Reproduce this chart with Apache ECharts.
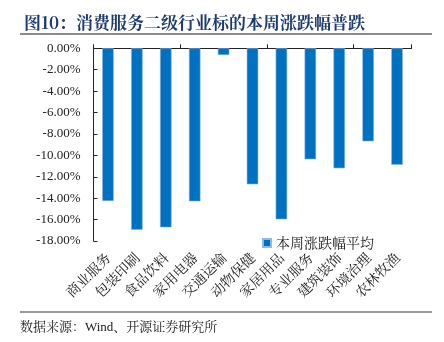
<!DOCTYPE html>
<html><head><meta charset="utf-8">
<script src="https://cdn.jsdelivr.net/npm/echarts@6/dist/echarts.min.js"></script>
<style>html,body{margin:0;padding:0;background:#fff}#c{width:444px;height:342px}</style>
</head><body><div id="c"></div>
<script>
var categories = ['商业服务','包装印刷','食品饮料','家用电器','交通运输','动物保健','家居用品','专业服务','建筑装饰','环境治理','农林牧渔'];
var weeklyChange = [-14.27, -16.95, -16.73, -14.30, -0.63, -12.71, -15.98, -10.37, -11.21, -8.69, -10.88];
var seriesName = '本周涨跌幅平均';
var titleText = '图10：消费服务二级行业标的本周涨跌幅普跌';
var sourceText = '数据来源：Wind、开源证券研究所';

var chart = echarts.init(document.getElementById('c'));
var cjk = '"Noto Serif CJK SC","Noto Sans CJK SC",serif';
chart.setOption({
  animation: false,
  backgroundColor: '#fff',
  title: {
    text: titleText, left: 19, top: 9,
    textStyle: {fontSize: 17, fontWeight: 'bold', color: '#1f3b6e', fontFamily: cjk}
  },
  graphic: [
    {type: 'line', shape: {x1: 20, y1: 34, x2: 432, y2: 34}, style: {stroke: '#8c8c8c', lineWidth: 2}},
    {type: 'line', shape: {x1: 20, y1: 312, x2: 432, y2: 312}, style: {stroke: '#333', lineWidth: 1}},
    {type: 'text', left: 20, top: 321, style: {text: sourceText, fontSize: 13, fill: '#222', fontFamily: '"Liberation Serif",' + cjk}}
  ],
  legend: {
    data: [seriesName], left: 257, top: 231, itemWidth: 8, itemHeight: 8, itemGap: 4,
    icon: 'rect',
    textStyle: {fontSize: 14, color: '#222', fontFamily: cjk}
  },
  grid: {left: 93.5, right: 32.5, top: 48.3, bottom: 101},
  xAxis: [
    {type: 'category', data: categories, position: 'bottom',
     axisLine: {show: false}, axisTick: {show: false},
     axisLabel: {rotate: 45, margin: 14, fontSize: 14, color: '#222', fontFamily: cjk, interval: 0}},
    {type: 'category', data: categories, position: 'top',
     axisLine: {show: true, lineStyle: {color: '#222', width: 1}},
     axisTick: {show: true, length: 4, lineStyle: {color: '#222'}},
     axisLabel: {show: false}}
  ],
  yAxis: {
    type: 'value', min: -18, max: 0, interval: 2,
    splitLine: {show: false},
    axisLine: {show: true, lineStyle: {color: '#222'}},
    axisTick: {show: true, inside: true, length: 4, lineStyle: {color: '#222'}},
    axisLabel: {margin: 13, fontSize: 13, color: '#222', fontFamily: '"Liberation Serif",serif',
      formatter: function (v) { return v.toFixed(2) + '%'; }}
  },
  series: [{
    name: seriesName, type: 'bar', xAxisIndex: 0, data: weeklyChange, barWidth: '40%',
    itemStyle: {color: '#0070C0', borderColor: '#8db9e2', borderWidth: 0.6}
  }]
});
</script></body></html>
